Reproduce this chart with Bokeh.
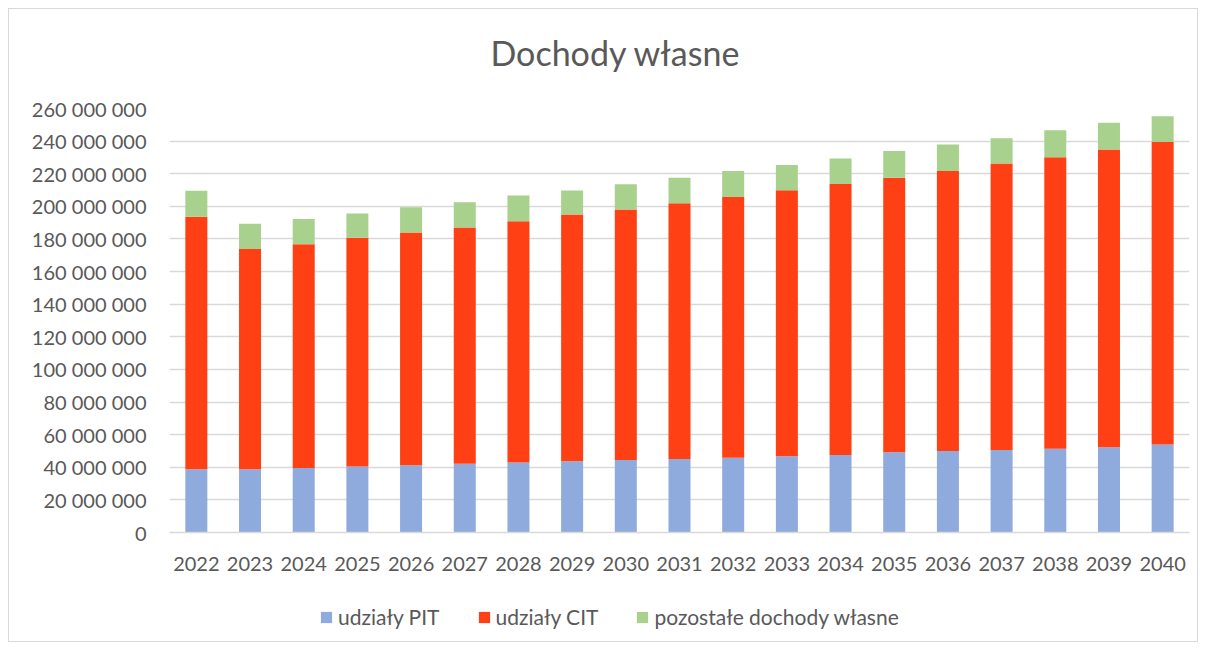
from bokeh.plotting import figure
from bokeh.layouts import column
from bokeh.models import FactorRange, Range1d, FixedTicker, Legend, LegendItem
from bokeh.embed import file_html
from bokeh.resources import INLINE

years = [str(y) for y in range(2022, 2041)]
udzialy_pit = [38_800_000, 38_800_000, 39_600_000, 40_400_000, 41_200_000, 42_100_000, 42_900_000,
               43_700_000, 44_500_000, 45_100_000, 45_900_000, 46_700_000, 47_600_000, 49_200_000,
               50_000_000, 50_600_000, 51_400_000, 52_300_000, 53_900_000]
udzialy_cit = [154_800_000, 135_000_000, 137_200_000, 140_300_000, 142_700_000, 144_900_000, 148_000_000,
               151_300_000, 153_600_000, 156_800_000, 159_900_000, 163_200_000, 166_100_000, 168_300_000,
               171_600_000, 175_600_000, 178_700_000, 182_500_000, 185_600_000]
pozostale = [15_900_000, 15_500_000, 15_500_000, 14_900_000, 15_600_000, 15_500_000, 15_700_000,
             14_700_000, 15_500_000, 15_600_000, 15_800_000, 15_500_000, 15_600_000, 16_500_000,
             16_300_000, 15_600_000, 16_600_000, 16_400_000, 15_700_000]
series_names = ["udziały PIT", "udziały CIT", "pozostałe dochody własne"]
colors = ["#8FAADC", "#FF4014", "#A9D18E"]
y_ticks = list(range(0, 260_000_001, 20_000_000))
y_tick_labels = ["0", "20 000 000", "40 000 000", "60 000 000", "80 000 000", "100 000 000",
                 "120 000 000", "140 000 000", "160 000 000", "180 000 000", "200 000 000",
                 "220 000 000", "240 000 000", "260 000 000"]
chart_title = "Dochody własne"

FONT = "Lato"
TXT = "#595959"

data = {"year": years, "pit": udzialy_pit, "cit": udzialy_cit, "poz": pozostale}


def blank(fig):
    fig.outline_line_color = None
    fig.xgrid.grid_line_color = None
    fig.ygrid.grid_line_color = None
    fig.border_fill_color = "white"
    fig.background_fill_color = "white"


# header strip holding the title
hdr = figure(width=1188, height=85, output_backend="svg", toolbar_location=None,
             x_axis_type=None, y_axis_type=None, min_border=0,
             min_border_left=160, min_border_right=8,
             x_range=Range1d(0, 1), y_range=Range1d(0, 1))
blank(hdr)
hdr.title.text = chart_title
hdr.title.text_font = FONT
hdr.title.text_font_size = "34px"
hdr.title.text_font_style = "normal"
hdr.title.text_color = TXT
hdr.title.align = "left"
hdr.title.offset = 321
hdr.title.standoff = 40

# main chart
p = figure(x_range=FactorRange(*years, range_padding=0), y_range=Range1d(0, 260_000_000),
           width=1188, height=498, output_backend="svg", toolbar_location=None,
           min_border_left=160, min_border_right=8, min_border_top=14, min_border_bottom=60)

renderers = p.vbar_stack(["pit", "cit", "poz"], x="year", width=0.41, color=colors, source=data,
                         line_color=None)

p.outline_line_color = None
p.background_fill_color = "white"
p.border_fill_color = "white"

p.xgrid.grid_line_color = None
p.ygrid.grid_line_color = "#D9D9D9"
p.ygrid.grid_line_width = 1.5

p.yaxis.ticker = FixedTicker(ticks=y_ticks)
p.yaxis.major_label_overrides = {t: l for t, l in zip(y_ticks, y_tick_labels)}
p.yaxis.axis_line_color = None
p.yaxis.major_tick_line_color = None
p.yaxis.minor_tick_line_color = None
p.yaxis.major_label_standoff = 17
p.yaxis.major_label_text_font = FONT
p.yaxis.major_label_text_font_size = "20px"
p.yaxis.major_label_text_color = TXT

p.xaxis.axis_line_color = "#D9D9D9"
p.xaxis.axis_line_width = 1.5
p.xaxis.major_tick_line_color = None
p.xaxis.minor_tick_line_color = None
p.xaxis.major_label_standoff = 18
p.xaxis.major_label_text_font = FONT
p.xaxis.major_label_text_font_size = "20px"
p.xaxis.major_label_text_color = TXT

# legend strip: same series with zero-width bars on an out-of-view range; only the legend shows
lf = figure(width=1188, height=49, output_backend="svg", toolbar_location=None,
            x_axis_type=None, y_axis_type=None, min_border=0,
            min_border_left=160, min_border_right=8,
            x_range=FactorRange(*years, range_padding=0),
            y_range=Range1d(-520_000_000, -260_000_000))
blank(lf)
swatches = lf.vbar_stack(["pit", "cit", "poz"], x="year", width=0, color=colors, source=data,
                         line_color=None)

legend = Legend(items=[LegendItem(label=n, renderers=[r]) for n, r in zip(series_names, swatches)],
                orientation="horizontal", location=(150, 12),
                glyph_width=14, glyph_height=14, label_standoff=5, spacing=37,
                padding=0, margin=0, border_line_color=None, background_fill_alpha=0,
                label_text_font=FONT, label_text_font_size="21px", label_text_color=TXT)
lf.add_layout(legend, "center")

layout = column(hdr, p, lf, spacing=0, margin=(8, 0, 0, 8),
                styles={"border": "1px solid #D9D9D9", "background-color": "white"})

open("out.html", "w").write(file_html(layout, INLINE))
